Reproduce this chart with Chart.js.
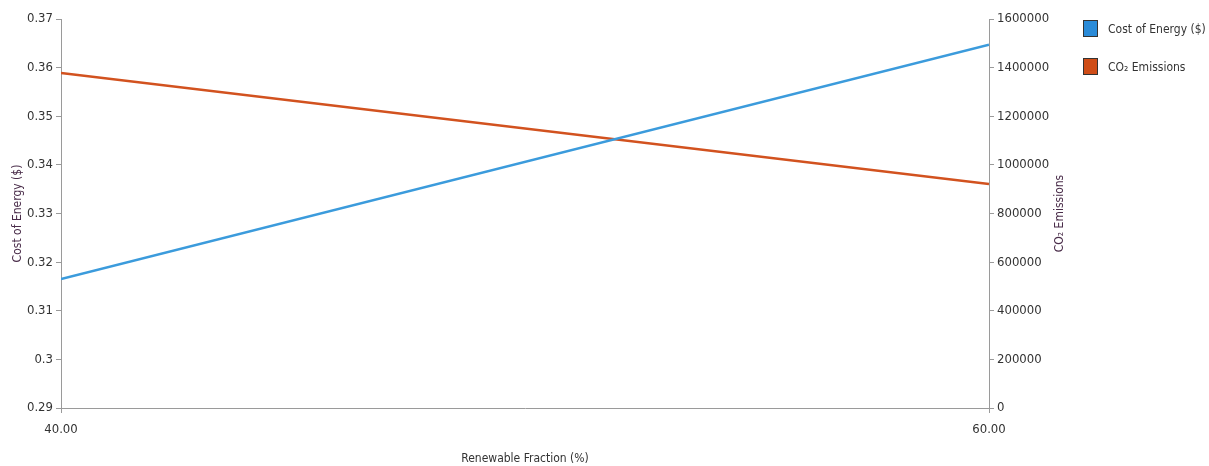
<!DOCTYPE html>
<html>
<head>
<meta charset="utf-8">
<script src="https://cdn.jsdelivr.net/npm/chart.js@4"></script>
<style>
  html, body { margin: 0; padding: 0; background: #fff; }
  #wrap { position: relative; width: 1209px; height: 466px; }
  #legend { position: absolute; left: 1083px; top: 20px; font-family: 'DejaVu Sans Condensed', 'Liberation Sans', sans-serif; font-size: 12px; color: #333; }
  .item { display: flex; align-items: center; height: 17px; margin-bottom: 21px; white-space: nowrap; }
  .box { width: 13px; height: 15px; border: 1px solid #333; margin-right: 10px; }
</style>
</head>
<body>
<div id="wrap"><canvas id="chart"></canvas><div id="legend"></div></div>
<script>
const renewableFraction = [40, 60];
const costOfEnergy = [0.3165, 0.3647];
const co2Emissions = [1378000, 921000];
const xTicks = [40, 60];

const font = "'DejaVu Sans Condensed', 'Liberation Sans', sans-serif";
const blue = '#3b9bdc';
const orange = '#d2521f';
const axisGray = '#9a9a9a';
const titleColor = '#4a2d4a';

// right axis title reads bottom-to-top like the left one
const rightTitle = {
    id: 'rightTitle',
    afterDraw(c) {
        const a = c.scales.y1;
        const g = c.ctx;
        g.save();
        g.translate(1060, (a.top + a.bottom) / 2);
        g.rotate(-Math.PI / 2);
        g.font = '12px ' + font;
        g.fillStyle = titleColor;
        g.textAlign = 'center';
        g.textBaseline = 'middle';
        g.fillText('CO\u2082 Emissions', 0, 0);
        g.restore();
    }
};

const ctx = document.getElementById('chart').getContext('2d');

const chart = new Chart(ctx, {
    type: 'line',
    data: {
        datasets: [{
            label: 'Cost of Energy ($)',
            data: renewableFraction.map((x, i) => ({ x: x, y: costOfEnergy[i] })),
            borderColor: blue,
            backgroundColor: '#2a8bd8',
            borderWidth: 2.5,
            pointRadius: 0,
            yAxisID: 'y'
        }, {
            label: 'CO\u2082 Emissions',
            data: renewableFraction.map((x, i) => ({ x: x, y: co2Emissions[i] })),
            borderColor: orange,
            backgroundColor: '#cf4d17',
            borderWidth: 2.5,
            pointRadius: 0,
            yAxisID: 'y1'
        }]
    },
    plugins: [rightTitle],
    options: {
        responsive: true,
        maintainAspectRatio: false,
        animation: false,
        layout: { padding: { left: 0, top: 19, right: 140, bottom: 0 } },
        plugins: {
            tooltip: { enabled: false },
            legend: { display: false }
        },
        scales: {
            x: {
                type: 'linear',
                min: 40,
                max: 60,
                afterBuildTicks: (axis) => { axis.ticks = xTicks.map(v => ({ value: v })); },
                afterFit: (axis) => { axis.height = 58; },
                ticks: {
                    color: '#333',
                    font: { family: font, size: 13 },
                    padding: 9,
                    maxRotation: 0,
                    callback: (v) => Number(v).toFixed(2)
                },
                grid: { drawOnChartArea: false, drawTicks: true, tickLength: 5, color: axisGray },
                border: { color: axisGray, width: 1 },
                title: {
                    display: true,
                    text: 'Renewable Fraction (%)',
                    color: '#333',
                    font: { family: font, size: 12 },
                    padding: { top: 8, bottom: 0 }
                }
            },
            y: {
                position: 'left',
                min: 0.29,
                max: 0.37,
                afterFit: (axis) => { axis.width = 61; },
                ticks: {
                    stepSize: 0.01,
                    color: '#333',
                    font: { family: font, size: 13 },
                    padding: 3,
                    callback: (v) => String(parseFloat(Number(v).toFixed(2)))
                },
                grid: { drawOnChartArea: false, drawTicks: true, tickLength: 5, color: axisGray },
                border: { color: axisGray, width: 1 },
                title: {
                    display: true,
                    text: 'Cost of Energy ($)',
                    color: titleColor,
                    font: { family: font, size: 12 },
                    padding: { top: 11, bottom: 0 }
                }
            },
            y1: {
                position: 'right',
                min: 0,
                max: 1600000,
                afterFit: (axis) => { axis.width = 80; },
                ticks: {
                    stepSize: 200000,
                    color: '#333',
                    font: { family: font, size: 13 },
                    padding: 3,
                    callback: (v) => String(v)
                },
                grid: { drawOnChartArea: false, drawTicks: true, tickLength: 5, color: axisGray },
                border: { color: axisGray, width: 1 },
                title: { display: false }
            }
        }
    }
});

// legend
const legendEl = document.getElementById('legend');
chart.data.datasets.forEach(ds => {
    const item = document.createElement('div');
    item.className = 'item';
    const box = document.createElement('span');
    box.className = 'box';
    box.style.background = ds.backgroundColor;
    const label = document.createElement('span');
    label.textContent = ds.label;
    item.appendChild(box);
    item.appendChild(label);
    legendEl.appendChild(item);
});
</script>
</body>
</html>
